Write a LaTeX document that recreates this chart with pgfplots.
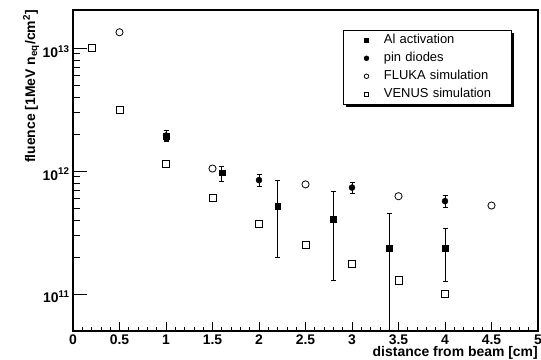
\documentclass[border=0pt]{standalone}
\usepackage{fontspec}
\setmainfont{Liberation Sans}
\usepackage{pgfplots}
\pgfplotsset{compat=1.18}
\usetikzlibrary{shadows}
\begin{document}
\begin{tikzpicture}
\begin{axis}[
  scale only axis,
  width=465bp, height=321bp,
  xmin=0, xmax=5,
  ymode=log, ymin=5e10, ymax=2.05e13,
  xtick={0,0.5,...,5},
  minor x tick num=4,
  ytick={1e11,1e12,1e13},
  yticklabels={10\textsuperscript{11},10\textsuperscript{12},10\textsuperscript{13}},
  tick pos=left,
  tick align=inside,
  major tick length=14bp,
  minor tick length=7bp,
  x tick style={/pgfplots/major tick length=9bp,/pgfplots/minor tick length=4.5bp},
  axis line style={line width=1.5bp},
  every tick/.style={black, line width=0.8bp},
  /pgf/number format/assume math mode=true,
  ticklabel style={font=\fontsize{14}{16}\selectfont\bfseries},
  yticklabel style={yshift=-3bp},
  xlabel={distance from beam [cm]},
  ylabel={fluence [1MeV n\textsubscript{eq}/cm\textsuperscript{2}]},
  label style={font=\fontsize{14}{16}\selectfont\bfseries},
  xlabel style={at={(axis description cs:1,0)}, anchor=base east, yshift=-26bp, inner sep=0pt},
  ylabel style={at={(axis description cs:-0.0817,1)}, anchor=base east, inner sep=0pt},
  clip marker paths=true,
  legend style={at={(0.58,0.938)}, anchor=north west, draw=black, line width=0.8bp, fill=white,
    drop shadow={shadow xshift=3bp, shadow yshift=-3bp, fill=black, opacity=1},
    font=\fontsize{13}{15}\selectfont, row sep=0pt, inner sep=1bp,
    nodes={text width=124bp, text height=9.5bp, text depth=3bp, inner ysep=2.75bp, inner xsep=2bp}},
  legend cell align=left,
  legend image code/.code={\path (0bp,0bp) (37bp,0bp); \draw[#1, mark size=2.3bp] plot coordinates {(22bp,0bp)};},
]
\addplot[only marks, mark=square*, mark size=2.9bp, black,
  error bars/.cd, y dir=both, y explicit, error mark=-, error mark options={rotate=90, black, mark size=2.5bp, line width=1bp},
  error bar style={line width=0.8bp, black}]
  coordinates {
  (1.0,1.93e12) +- (0,0.2e12)
  (1.6,9.7e11) += (0,1.3e11) -= (0,1.4e11)
  (2.2,5.2e11) +- (0,3.2e11)
  (2.8,4.05e11) +- (0,2.75e11)
  (3.4,2.35e11) += (0,2.2e11) -= (0,2.3e11)
  (4.0,2.35e11) +- (0,1.08e11)
  };
\addlegendentry{Al activation}
\addplot[only marks, mark=*, mark size=3bp, black,
  error bars/.cd, y dir=both, y explicit, error mark=-, error mark options={rotate=90, black, mark size=2.5bp, line width=1bp},
  error bar style={line width=0.8bp, black}]
  coordinates {
  (1.0,1.95e12) +- (0,0.18e12)
  (2.0,8.45e11) +- (0,0.9e11)
  (3.0,7.35e11) +- (0,0.75e11)
  (4.0,5.7e11) +- (0,0.6e11)
  };
\addlegendentry{pin diodes}
\addplot[only marks, mark=o, mark size=3.6bp, black, line width=0.8bp]
  coordinates {(0.5,1.35e13) (1.5,1.05e12) (2.5,7.8e11) (3.5,6.25e11) (4.5,5.25e11)};
\addlegendentry{FLUKA simulation}
\addplot[only marks, mark=square, mark size=3.6bp, black, line width=0.8bp]
  coordinates {(0.2,1e13) (0.5,3.14e12) (1.0,1.14e12) (1.5,6.1e11) (2.0,3.72e11) (2.5,2.51e11) (3.0,1.77e11) (3.5,1.29e11) (4.0,1e11)};
\addlegendentry{VENUS simulation}
\end{axis}
\pgfresetboundingbox
\path ([shift={(-73bp,-29bp)}]current axis.south west) rectangle ([shift={(3bp,10bp)}]current axis.north east);
\end{tikzpicture}
\end{document}
